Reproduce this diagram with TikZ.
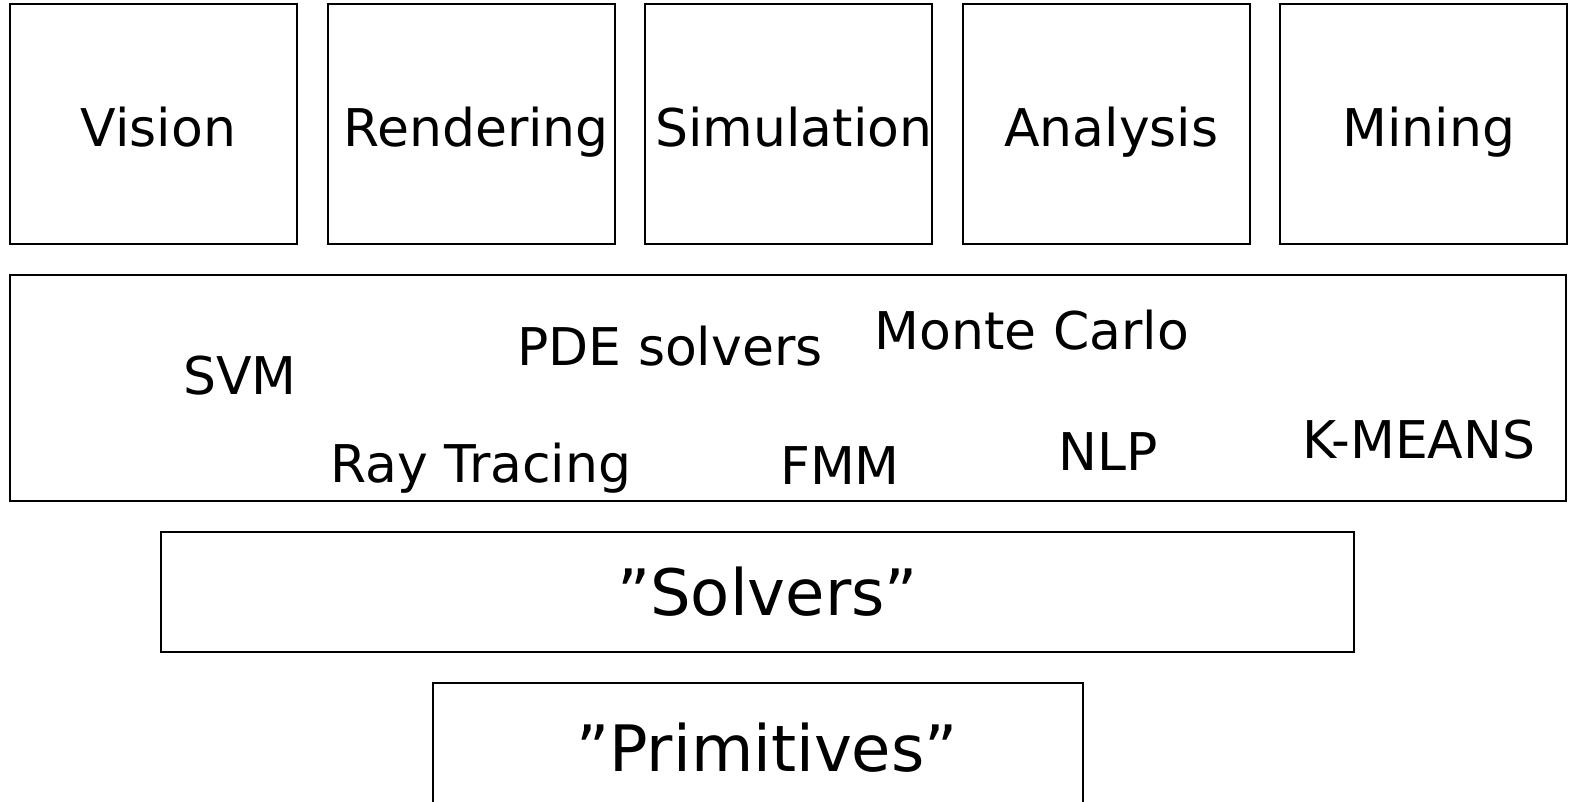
\documentclass[tikz,border=0pt]{standalone}
\usepackage{fontspec}
\setmainfont{DejaVu Sans}
\usetikzlibrary{positioning}

\tikzset{
  appbox/.style={draw, line width=1pt, minimum width=143.5pt, minimum height=120pt,
    inner sep=0pt, text height=25pt, text depth=2pt,
    execute at begin node=\hspace*{5pt}},
  layerbox/.style={draw, line width=1pt, inner sep=0pt},
  kernel/.style={inner sep=0pt, font=\fontsize{26}{30}\selectfont}
}

\begin{document}
\begin{tikzpicture}[x=0.5pt, y=-0.5pt, node distance=14.3pt,
    font=\fontsize{26}{30}\selectfont]
  \useasboundingbox (0,0) rectangle (1569,802);

  % application areas
  \node (vision) [appbox] at (153.5,124) {Vision};
  \node (rendering) [appbox, right=of vision] {Rendering};
  \node (simulation) [appbox, right=of rendering] {Simulation};
  \node (analysis) [appbox, right=of simulation] {Analysis};
  \node (mining) [appbox, right=of analysis] {Mining};

  % kernels
  \node (kernels) [layerbox, minimum width=778pt, minimum height=113pt] at (788,388) {};
  \node (svm) [kernel] at (240,376) {SVM};
  \node (pde) [kernel] at (670,346) {PDE solvers};
  \node (montecarlo) [kernel] at (1032,330) {Monte Carlo};
  \node (raytracing) [kernel] at (481,468) {Ray Tracing};
  \node (fmm) [kernel] at (840,466) {FMM};
  \node (nlp) [kernel] at (1108,452) {NLP};
  \node (kmeans) [kernel] at (1419,440) {K-MEANS};

  % lower layers
  \node (solvers) [layerbox, minimum width=596.5pt, minimum height=60pt,
    font=\fontsize{32}{36}\selectfont] at (757.5,592) {\hspace*{10pt}”Solvers”};
  \node (primitives) [layerbox, minimum width=325pt, minimum height=65pt,
    font=\fontsize{32}{36}\selectfont] at (758,748) {\hspace*{9pt}”Primitives”};
\end{tikzpicture}
\end{document}
